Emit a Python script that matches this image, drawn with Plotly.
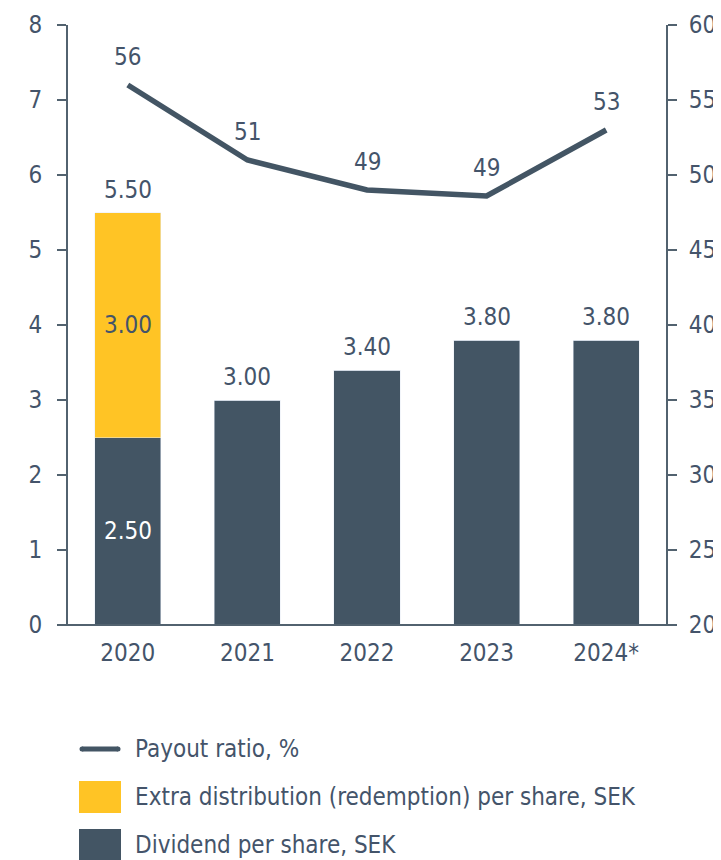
import plotly.graph_objects as go

years = ["2020", "2021", "2022", "2023", "2024*"]
dividend = [2.50, 3.00, 3.40, 3.80, 3.80]
extra = [3.00, 0, 0, 0, 0]
payout = [56, 51, 49, 48.6, 53]
payout_labels = ["56", "51", "49", "49", "53"]
left_ticks = [0, 1, 2, 3, 4, 5, 6, 7, 8]
right_ticks = [20, 25, 30, 35, 40, 45, 50, 55, 60]

DARK = "#435564"
YEL = "#FFC425"
TXT = "#44546A"
AX = "#52626f"
FONT = "DejaVu Sans Condensed, sans-serif"
FS = 24

OFF = 8  # page body margin
W, H = 721 - OFF, 860 - OFF
L = 68 - OFF
T = 25 - OFF
R = W - (666 - OFF)
B = H - (625 - OFF)
pw, ph = W - L - R, H - T - B

def px(x):
    return (x - OFF - L) / pw

def py(y):
    return (H - B - (y - OFF)) / ph

fig = go.Figure()
fig.add_trace(go.Bar(x=years, y=dividend, marker_color=DARK, name="Dividend per share, SEK",
                     showlegend=False, yaxis="y"))
fig.add_trace(go.Bar(x=years, y=extra, marker_color=YEL, name="Extra distribution (redemption) per share, SEK",
                     showlegend=False, yaxis="y"))
fig.add_trace(go.Scatter(x=years, y=payout, mode="lines", line=dict(color=DARK, width=5.5),
                         name="Payout ratio, %", showlegend=False, yaxis="y2"))

ann = []
for i, yr in enumerate(years):
    total = dividend[i] + extra[i]
    ann.append(dict(x=i, y=total, xref="x", yref="y", text=f"{total:.2f}", showarrow=False,
                    yanchor="middle", yshift=23, font=dict(size=FS, color=TXT, family=FONT)))
    if extra[i] > 0:
        ann.append(dict(x=i, y=dividend[i] / 2, xref="x", yref="y", text=f"{dividend[i]:.2f}",
                        showarrow=False, font=dict(size=FS, color="white", family=FONT)))
        ann.append(dict(x=i, y=dividend[i] + extra[i] / 2, xref="x", yref="y", text=f"{extra[i]:.2f}",
                        showarrow=False, font=dict(size=FS, color=TXT, family=FONT)))
    ann.append(dict(x=i, y=payout[i], xref="x", yref="y2", text=payout_labels[i], showarrow=False,
                    yanchor="middle", yshift=28, font=dict(size=FS, color=TXT, family=FONT)))

# manual legend
legend_items = [("line", "Payout ratio, %", 749),
                ("box", "Extra distribution (redemption) per share, SEK", 797),
                ("box2", "Dividend per share, SEK", 845)]
shapes = []
for kind, label, yc in legend_items:
    if kind == "line":
        shapes.append(dict(type="line", xref="paper", yref="paper", x0=px(82), x1=px(118),
                           y0=py(yc), y1=py(yc), line=dict(color=DARK, width=5)))
        shapes.append(dict(type="circle", xref="paper", yref="paper", x0=px(79.5), x1=px(84.5),
                           y0=py(yc + 2.5), y1=py(yc - 2.5), line=dict(width=0), fillcolor=DARK))
        shapes.append(dict(type="circle", xref="paper", yref="paper", x0=px(115.5), x1=px(120.5),
                           y0=py(yc + 2.5), y1=py(yc - 2.5), line=dict(width=0), fillcolor=DARK))
    else:
        shapes.append(dict(type="rect", xref="paper", yref="paper", x0=px(79), x1=px(121),
                           y0=py(yc + 16), y1=py(yc - 16), line=dict(width=0),
                           fillcolor=YEL if kind == "box" else DARK))
    ann.append(dict(x=px(133), y=py(yc), xref="paper", yref="paper", text=label, showarrow=False,
                    xanchor="left", yanchor="middle", font=dict(size=FS, color=TXT, family=FONT)))

# x axis baseline extending beyond y axes
shapes.append(dict(type="line", xref="paper", yref="paper", x0=px(59), x1=px(675), y0=0, y1=0,
                   line=dict(color=AX, width=2)))

fig.update_layout(
    width=W, height=H, margin=dict(l=L, r=R, t=T, b=B, autoexpand=False),
    barmode="stack", bargap=0.447,
    plot_bgcolor="white", paper_bgcolor="white",
    font=dict(family=FONT, size=FS, color=TXT),
    xaxis=dict(type="category", range=[-0.5, 4.5], showline=False, ticks="",
               tickfont=dict(size=FS, color=TXT), showgrid=False, ticklabelstandoff=11),
    yaxis=dict(range=[0, 8], tickvals=left_ticks, showgrid=False, zeroline=False,
               showline=True, linecolor=AX, linewidth=2, ticks="outside", ticklen=9,
               tickcolor=AX, tickwidth=2, tickfont=dict(size=FS, color=TXT), ticklabelstandoff=10),
    yaxis2=dict(range=[20, 60], tickvals=right_ticks, overlaying="y", side="right", showgrid=False,
                zeroline=False, showline=True, linecolor=AX, linewidth=2, ticks="outside",
                ticklen=9, tickcolor=AX, tickwidth=2, tickfont=dict(size=FS, color=TXT),
                ticklabelstandoff=7),
    annotations=ann, shapes=shapes,
)

fig.write_html("out.html")
